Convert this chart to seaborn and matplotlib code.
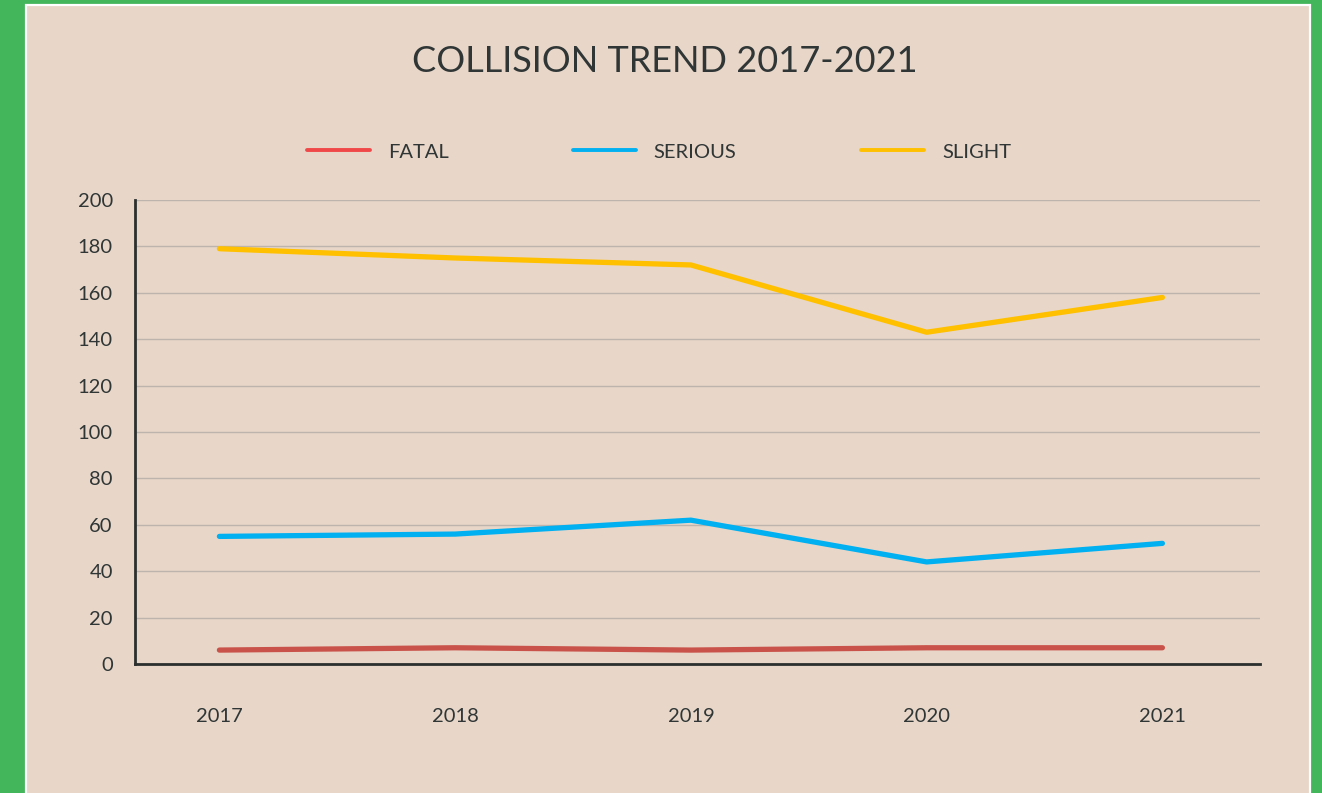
import matplotlib
matplotlib.use("Agg")
import matplotlib.pyplot as plt
import matplotlib.patches as mpatches
import seaborn as sns
import pandas as pd

years = ["2017", "2018", "2019", "2020", "2021"]
fatal = [6, 7, 6, 7, 7]
serious = [55, 56, 62, 44, 52]
slight = [179, 175, 172, 143, 158]
series_names = ["FATAL", "SERIOUS", "SLIGHT"]
y_ticks = [0, 20, 40, 60, 80, 100, 120, 140, 160, 180, 200]

df = pd.DataFrame({
    "year": years * 3,
    "value": fatal + serious + slight,
    "series": [series_names[0]] * 5 + [series_names[1]] * 5 + [series_names[2]] * 5,
})
df["x"] = df["year"].map({y: i for i, y in enumerate(years)})

BG = "#E8D6C9"
GREEN = "#43B55B"
TEXT = "#2F3635"
line_colors = {"FATAL": "#C9534A", "SERIOUS": "#00B0F0", "SLIGHT": "#FFC000"}
legend_colors = {"FATAL": "#F04848", "SERIOUS": "#00B0F0", "SLIGHT": "#FFC000"}

sns.set_theme(style="white")
plt.rcParams["font.family"] = ["Lato", "DejaVu Sans"]

fig = plt.figure(figsize=(13.22, 7.93), dpi=100, facecolor=GREEN)
panel = mpatches.Rectangle((26 / 1322, -0.02), (1310 - 26) / 1322, (793 - 5) / 793 + 0.02,
                           transform=fig.transFigure, facecolor=BG, edgecolor="white",
                           linewidth=1.6, zorder=-5)
fig.patches.append(panel)

ax = fig.add_axes([135 / 1322, 129 / 793, (1260 - 135) / 1322, (664 - 200) / 793])
ax.set_zorder(5)
ax.patch.set_alpha(0)

sns.lineplot(data=df, x="x", y="value", hue="series", hue_order=series_names,
             palette=line_colors, linewidth=3.8, ax=ax, legend=False,
             solid_capstyle="round", zorder=3)

ax.set_xlim(-0.358, 4.414)
ax.set_ylim(0, 200)
ax.set_yticks(y_ticks)
ax.set_xticks(range(len(years)))
ax.set_xticklabels(years)
ax.set_xlabel("")
ax.set_ylabel("")
ax.yaxis.grid(True, color="#BDB4AD", linewidth=1.0)
ax.xaxis.grid(False)
ax.set_axisbelow(True)
for s in ["top", "right"]:
    ax.spines[s].set_visible(False)
for s in ["left", "bottom"]:
    ax.spines[s].set_color("#2B2F2E")
    ax.spines[s].set_linewidth(2.0)
ax.tick_params(axis="both", length=0, colors=TEXT, labelsize=14.5)
ax.tick_params(axis="x", pad=32)
ax.tick_params(axis="y", pad=16)

handles = [plt.Line2D([], [], color=legend_colors[n], linewidth=2.8) for n in series_names]
leg = fig.legend(handles, series_names, loc="center", bbox_to_anchor=(0.4985, 1 - 152 / 793),
                 ncol=3, frameon=False, fontsize=14.5, handlelength=3.1, handletextpad=0.9,
                 columnspacing=6.2, labelcolor=TEXT)

fig.text(0.503, 1 - 61 / 793, "COLLISION TREND 2017-2021", ha="center", va="center",
         fontsize=26, color=TEXT)

fig.savefig("out.png", dpi=100, facecolor=GREEN)
